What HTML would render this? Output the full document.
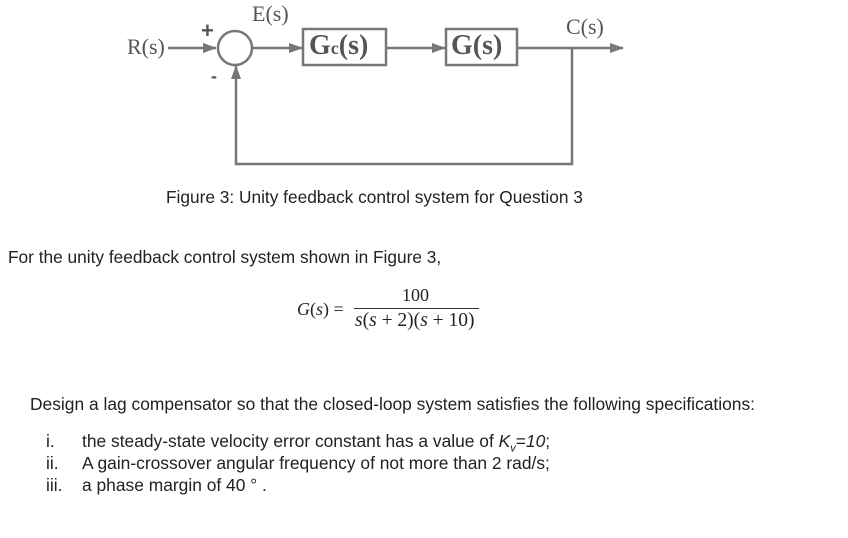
<!DOCTYPE html>
<html><head><style>
body{margin:0;background:#fff;width:848px;height:538px;position:relative;overflow:hidden;font-family:"Liberation Sans",sans-serif;color:#222}
.t{position:absolute;white-space:nowrap}
sub{line-height:0}
</style></head><body>
<svg width="848" height="538" style="position:absolute;left:0;top:0">
<defs><marker id="a" markerWidth="14" markerHeight="10" refX="13" refY="5" orient="auto" markerUnits="userSpaceOnUse"><path d="M0,0 L14,5 L0,10 z" fill="#777"/></marker></defs>
<g stroke="#777" stroke-width="2.5" fill="none">
<line x1="168" y1="48" x2="216" y2="48" marker-end="url(#a)"/>
<circle cx="235" cy="48" r="17"/>
<line x1="252" y1="48" x2="302" y2="48" marker-end="url(#a)"/>
<rect x="303" y="29" width="83" height="36"/>
<line x1="386" y1="48" x2="445" y2="48" marker-end="url(#a)"/>
<rect x="446" y="29" width="71" height="36"/>
<line x1="517" y1="48" x2="623" y2="48" marker-end="url(#a)"/>
<polyline points="572,48 572,164 236,164 236,66" marker-end="url(#a)"/>
</g>
</svg>
<div class="t" style="left:127px;top:34px;font:22px 'Liberation Serif',serif;color:#555">R(s)</div>
<div class="t" style="left:201px;top:18px;font:bold 22px 'Liberation Sans';color:#555">+</div>
<div class="t" style="left:211px;top:66px;font:bold 18px 'Liberation Sans';color:#555">-</div>
<div class="t" style="left:252px;top:1px;font:22px 'Liberation Serif',serif;color:#555">E(s)</div>
<div class="t" style="left:309px;top:30px;font:bold 28px 'Liberation Serif',serif;color:#555">G<span style="font-size:18px">c</span>(s)</div>
<div class="t" style="left:451px;top:30px;font:bold 28px 'Liberation Serif',serif;color:#555">G(s)</div>
<div class="t" style="left:566px;top:14px;font:22px 'Liberation Serif',serif;color:#555">C(s)</div>
<div class="t" style="left:166px;top:187px;font-size:17.3px">Figure 3: Unity feedback control system for Question 3</div>
<div class="t" style="left:8px;top:247px;font-size:17.3px">For the unity feedback control system shown in Figure 3,</div>
<div class="t" style="left:297px;top:299px;font:18px 'Liberation Serif',serif"><i>G</i>(<i>s</i>) =</div>
<div class="t" style="left:402px;top:285px;font:18px 'Liberation Serif',serif">100</div>
<div style="position:absolute;left:354px;top:308px;width:125px;border-top:1px solid #333"></div>
<div class="t" style="left:355px;top:310px;font:19.5px 'Liberation Serif',serif"><i>s</i>(<i>s</i> + 2)(<i>s</i> + 10)</div>
<div class="t" style="left:30px;top:394px;font-size:17.4px">Design a lag compensator so that the closed-loop system satisfies the following specifications:</div>
<div class="t" style="left:46px;top:430px;font-size:17.4px;line-height:22px">i.<br>ii.<br>iii.</div>
<div class="t" style="left:82px;top:430px;font-size:17.4px;line-height:22px">the steady-state velocity error constant has a value of <i>K<sub style="font-size:11px">v</sub></i>=<i>10</i>;<br>A gain-crossover angular frequency of not more than 2 rad/s;<br>a phase margin of 40 ° .</div>
</body></html>
